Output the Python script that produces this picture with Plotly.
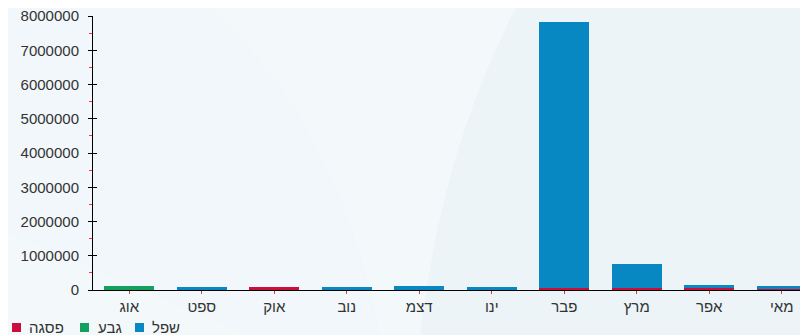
import plotly.graph_objects as go

months = ["אוג", "ספט", "אוק", "נוב", "דצמ", "ינו", "פבר", "מרץ", "אפר", "מאי"]
peak = [0, 0, 100000, 0, 0, 0, 60000, 60000, 50000, 40000]        # פסגה
shoulder = [110000, 0, 0, 0, 0, 0, 0, 0, 0, 0]                    # גבע
low = [0, 100000, 0, 100000, 110000, 80000, 7770000, 690000, 110000, 90000]  # שפל

series = [("פסגה", peak, "#cc0e3d"), ("גבע", shoulder, "#14a05e"), ("שפל", low, "#0888c3")]

# the page body has an 8px margin, so work in page pixels and shift back
OFF = 8
W, H = 800, 327
L, T = 93 - OFF, 16 - OFF
PB = 290 - OFF               # plot bottom inside the figure
R, B = 0, H - PB
PW, PH = W - L - R, PB - T
SLOT = 72.5


def px(x):
    return (x - OFF - L) / PW


def py(y):
    return (PB - (y - OFF)) / PH


fig = go.Figure()
for name, vals, color in series:
    fig.add_trace(go.Bar(x=months, y=vals, name=name, marker_color=color,
                         marker_line_width=0, showlegend=False))

# invisible trace so the inside-tick overlay axis gets drawn
fig.add_trace(go.Scatter(x=months[:1], y=[0], yaxis="y2", mode="markers",
                         marker=dict(size=0, opacity=0), showlegend=False, hoverinfo="skip"))

# soft background streaks
fig.add_shape(type="path", xref="paper", yref="paper", layer="below", line_width=0,
              fillcolor="rgba(255,255,255,0.4)",
              path=f"M {px(0)} {py(0)} L {px(520)} {py(0)} Q {px(440)} {py(150)} {px(420)} {py(340)} "
                   f"L {px(380)} {py(340)} Q {px(340)} {py(120)} {px(200)} {py(0)} Z")
fig.add_shape(type="path", xref="paper", yref="paper", layer="below", line_width=0,
              fillcolor="rgba(255,255,255,0.25)",
              path=f"M {px(0)} {py(0)} L {px(200)} {py(0)} Q {px(340)} {py(120)} {px(380)} {py(340)} "
                   f"L {px(0)} {py(340)} Z")
fig.add_shape(type="path", xref="paper", yref="paper", layer="below", line_width=0,
              fillcolor="rgba(255,255,255,0.2)",
              path=f"M {px(0)} {py(230)} Q {px(120)} {py(280)} {px(260)} {py(340)} L {px(0)} {py(340)} Z")

# legend drawn by hand to match spacing
leg = [("פסגה", "#cc0e3d", 12, 27), ("גבע", "#14a05e", 80, 96), ("שפל", "#0888c3", 135, 150)]
for text, color, sx, tx in leg:
    fig.add_shape(type="rect", xref="paper", yref="paper", line_width=0, fillcolor=color,
                  x0=px(sx), x1=px(sx + 9), y0=py(332), y1=py(323))
    fig.add_annotation(text=text, xref="paper", yref="paper", x=px(tx), y=py(327),
                       xanchor="left", yanchor="middle", showarrow=False,
                       font=dict(size=15, color="#333"))

fig.update_layout(
    width=W, height=H,
    margin=dict(l=L, r=R, t=T, b=B, autoexpand=False),
    barmode="stack", bargap=0.31,
    paper_bgcolor="#ecf4f8", plot_bgcolor="rgba(0,0,0,0)",
    font=dict(family="Liberation Sans, Arial, sans-serif", size=15, color="#333"),
    xaxis=dict(range=[-0.5, -0.5 + PW / SLOT], showgrid=False, showline=True, linecolor="#000",
               linewidth=1, ticks="outside", ticklen=3, tickcolor="#e33", automargin=False,
               ticklabeloverflow="allow", tickfont=dict(size=15, color="#333")),
    yaxis=dict(range=[0, 8000000], dtick=1000000, tickformat="d", showgrid=False, zeroline=False,
               showline=True, linecolor="#000", linewidth=1, ticks="outside", ticklen=4,
               tickcolor="#000", ticklabelstandoff=6, automargin=False,
               ticklabeloverflow="allow", tickfont=dict(size=15, color="#333"),
               minor=dict(dtick=500000, ticks="outside", ticklen=3, tickcolor="#f33")),
    yaxis2=dict(overlaying="y", range=[0, 8000000], dtick=1000000, showgrid=False,
                zeroline=False, showline=False, ticks="inside", ticklen=4, tickcolor="#000",
                showticklabels=False, anchor="x", side="left", automargin=False),
)

fig.write_html("out.html")
